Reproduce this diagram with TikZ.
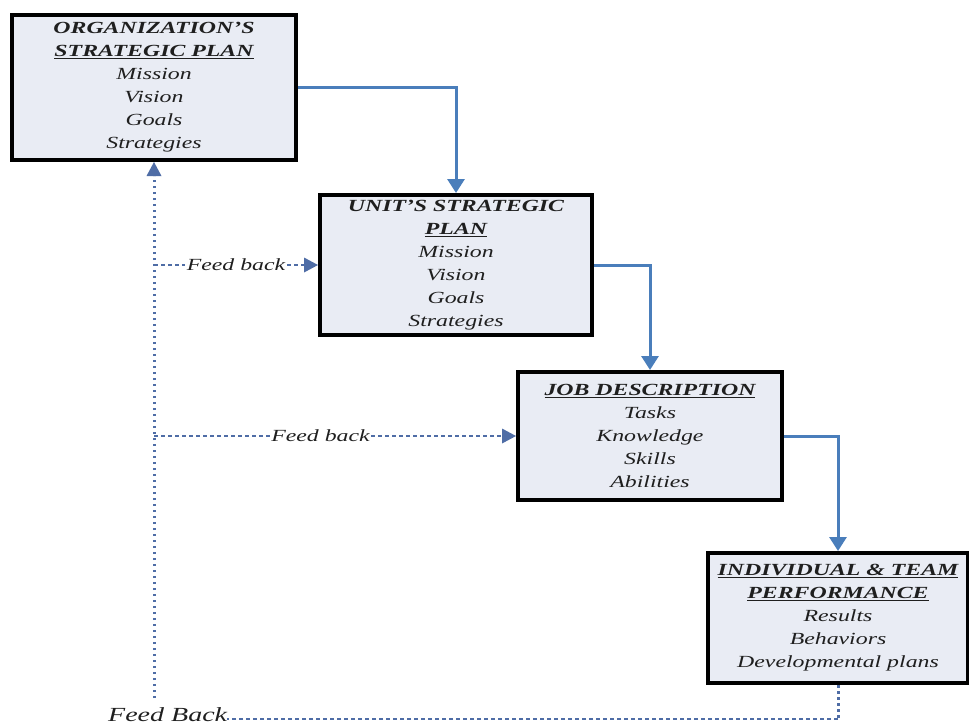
\documentclass[tikz,border=0pt]{standalone}
\usepackage{fontspec}
\setmainfont{Liberation Serif}[FakeStretch=1.4]
\usetikzlibrary{arrows.meta}

\definecolor{planfill}{HTML}{E9ECF4}
\definecolor{flowblue}{HTML}{4A7EBB}
\definecolor{fbblue}{HTML}{4F6DA6}

\newcommand{\hd}[1]{\textbf{#1}}
\newcommand{\uhd}[1]{\textbf{\underline{#1}}}

\begin{document}
\begin{tikzpicture}[x = 1pt, y = -1pt,
	plan/.style = {draw = black, line width = 4pt, fill = planfill, align = center, inner sep = 0pt,
		text = black!88, font = \fontsize{17}{23}\selectfont\itshape},
	flow/.style = {draw = flowblue, line width = 3pt, -{Triangle[width = 17pt, length = 14pt]}},
	fbh/.style = {draw = fbblue, line width = 1.6pt, dash pattern = on 4pt off 3pt},
	fbv/.style = {draw = fbblue, line width = 3pt, dash pattern = on 2.5pt off 3.5pt},
	fbtip/.style = {-{Triangle[width = 15pt, length = 14pt, line width = 0pt]}},
	fblabel/.style = {fill = white, inner sep = 1.5pt, text = black!88, font = \fontsize{17}{20}\selectfont\itshape}]
	\useasboundingbox (0,0) rectangle (969,724);

	\node[plan, minimum width = 284, minimum height = 145] (ORG) at (154,87.5)
		{\hd{ORGANIZATION'S}\\ \uhd{STRATEGIC PLAN}\\ Mission\\ Vision\\ Goals\\ Strategies};
	\node[plan, minimum width = 272, minimum height = 140] (UNIT) at (456,265)
		{\hd{UNIT'S STRATEGIC}\\ \uhd{PLAN}\\ Mission\\ Vision\\ Goals\\ Strategies};
	\node[plan, minimum width = 264, minimum height = 128] (JOB) at (650,436)
		{\uhd{JOB DESCRIPTION}\\ Tasks\\ Knowledge\\ Skills\\ Abilities};
	\node[plan, minimum width = 260, minimum height = 130] (PERF) at (838,618)
		{\uhd{INDIVIDUAL \& TEAM}\\ \uhd{PERFORMANCE}\\ Results\\ Behaviors\\ Developmental plans};

	% main flow
	\draw[flow] (ORG.east) -| (UNIT.north);
	\draw[flow] (UNIT.east) -| (JOB.north);
	\draw[flow] (JOB.east) -| (PERF.north);

	% feedback loop
	\node[anchor = base west, inner sep = 0pt, text = black!88, font = \fontsize{20}{24}\selectfont\itshape] (BOT) at (108,721) {Feed Back};
	\coordinate (C0) at (ORG.south |- 0,698);
	\coordinate (C1) at (PERF.south |- BOT.mid east);
	\coordinate (T1) at (ORG.south |- UNIT.west);
	\coordinate (T2) at (ORG.south |- JOB.west);
	\draw[fbv] (PERF.south) -- (C1);
	\draw[fbh] (C1) -- (BOT.mid east);
	\draw[fbv, fbtip] (C0) -- (ORG.south);
	\draw[fbh, fbtip] (T1) -- node[fblabel]{Feed back} (UNIT.west);
	\draw[fbh, fbtip] (T2) -- node[fblabel, pos = 0.46]{Feed back} (JOB.west);
\end{tikzpicture}
\end{document}
